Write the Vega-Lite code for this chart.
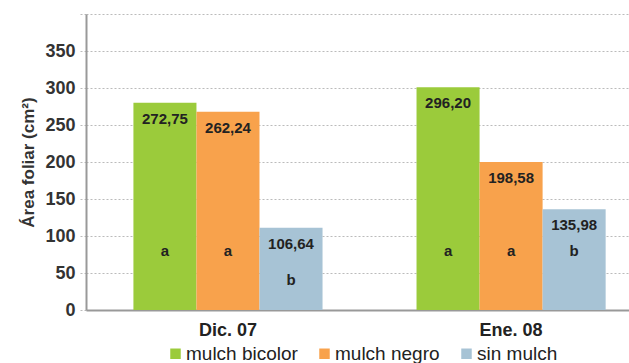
{
  "$schema": "https://vega.github.io/schema/vega-lite/v6.json",
  "width": 543,
  "height": 296,
  "autosize": "none",
  "padding": {"left": 86, "top": 14, "right": 0, "bottom": 53},
  "background": "white",
  "config": {
    "font": "Liberation Sans",
    "view": {"stroke": null}
  },
  "data": {
    "values": [
      {"fecha": "Dic. 07", "tratamiento": "mulch bicolor", "altura": 280, "etiqueta": "272,75", "letra": "a"},
      {"fecha": "Dic. 07", "tratamiento": "mulch negro", "altura": 268, "etiqueta": "262,24", "letra": "a"},
      {"fecha": "Dic. 07", "tratamiento": "sin mulch", "altura": 111, "etiqueta": "106,64", "letra": "b"},
      {"fecha": "Ene. 08", "tratamiento": "mulch bicolor", "altura": 301, "etiqueta": "296,20", "letra": "a"},
      {"fecha": "Ene. 08", "tratamiento": "mulch negro", "altura": 200, "etiqueta": "198,58", "letra": "a"},
      {"fecha": "Ene. 08", "tratamiento": "sin mulch", "altura": 136, "etiqueta": "135,98", "letra": "b"}
    ]
  },
  "transform": [
    {"calculate": "datum.altura < 120 ? 40 : 80", "as": "pos_letra"}
  ],
  "resolve": {"axis": {"y": "independent"}},
  "encoding": {
    "x": {
      "field": "fecha",
      "type": "nominal",
      "scale": {"paddingInner": 0.332, "paddingOuter": 0.125, "align": 0.67},
      "axis": {
        "title": null,
        "labelAngle": 0,
        "labelFont": "Liberation Sans",
        "labelFontSize": 18,
        "labelFontWeight": "bold",
        "labelColor": "#222",
        "labelPadding": 11,
        "ticks": false,
        "domainColor": "#999",
        "domainWidth": 2
      }
    },
    "xOffset": {
      "field": "tratamiento",
      "type": "nominal",
      "sort": ["mulch bicolor", "mulch negro", "sin mulch"],
      "scale": {"paddingInner": 0, "paddingOuter": 0}
    }
  },
  "layer": [
    {
      "mark": {"type": "bar"},
      "encoding": {
        "y": {
          "field": "altura",
          "type": "quantitative",
          "scale": {"domain": [0, 400]},
          "axis": {
            "title": "Área foliar (cm²)",
            "titleFont": "Liberation Sans",
            "titleFontSize": 17,
            "titleFontWeight": "bold",
            "titleColor": "#333",
            "titlePadding": 7,
            "values": [0, 50, 100, 150, 200, 250, 300, 350, 400],
            "labelExpr": "datum.value == 400 ? '' : datum.label",
            "labelOverlap": false,
            "labelFont": "Liberation Sans",
            "labelFontSize": 18,
            "labelFontWeight": "bold",
            "labelColor": "#333",
            "labelPadding": 5,
            "tickSize": 6,
            "tickColor": "#bbb",
            "tickDash": [2, 2],
            "domainColor": "#999",
            "domainWidth": 2,
            "grid": true,
            "gridColor": "#bbb",
            "gridDash": [2, 2],
            "gridWidth": 1
          }
        },
        "color": {
          "field": "tratamiento",
          "type": "nominal",
          "sort": ["mulch bicolor", "mulch negro", "sin mulch"],
          "scale": {
            "domain": ["mulch bicolor", "mulch negro", "sin mulch"],
            "range": ["#9BCB3B", "#F8A24C", "#A7C3D5"]
          },
          "legend": {
            "title": null,
            "orient": "none",
            "direction": "horizontal",
            "legendX": 80,
            "legendY": 330,
            "padding": 0,
            "symbolType": "square",
            "symbolSize": 110,
            "symbolStrokeWidth": 0,
            "labelFont": "Liberation Sans",
            "labelFontSize": 19,
            "labelColor": "#222",
            "labelOffset": 1,
            "columnPadding": 17
          }
        }
      }
    },
    {
      "mark": {"type": "text", "fontSize": 15, "fontWeight": "bold", "color": "#222", "baseline": "middle", "dy": 16, "font": "Liberation Sans"},
      "encoding": {
        "y": {"field": "altura", "type": "quantitative", "axis": null},
        "text": {"field": "etiqueta"}
      }
    },
    {
      "mark": {"type": "text", "fontSize": 15, "fontWeight": "bold", "color": "#222", "baseline": "middle", "font": "Liberation Sans"},
      "encoding": {
        "y": {"field": "pos_letra", "type": "quantitative", "axis": null},
        "text": {"field": "letra"}
      }
    }
  ]
}
